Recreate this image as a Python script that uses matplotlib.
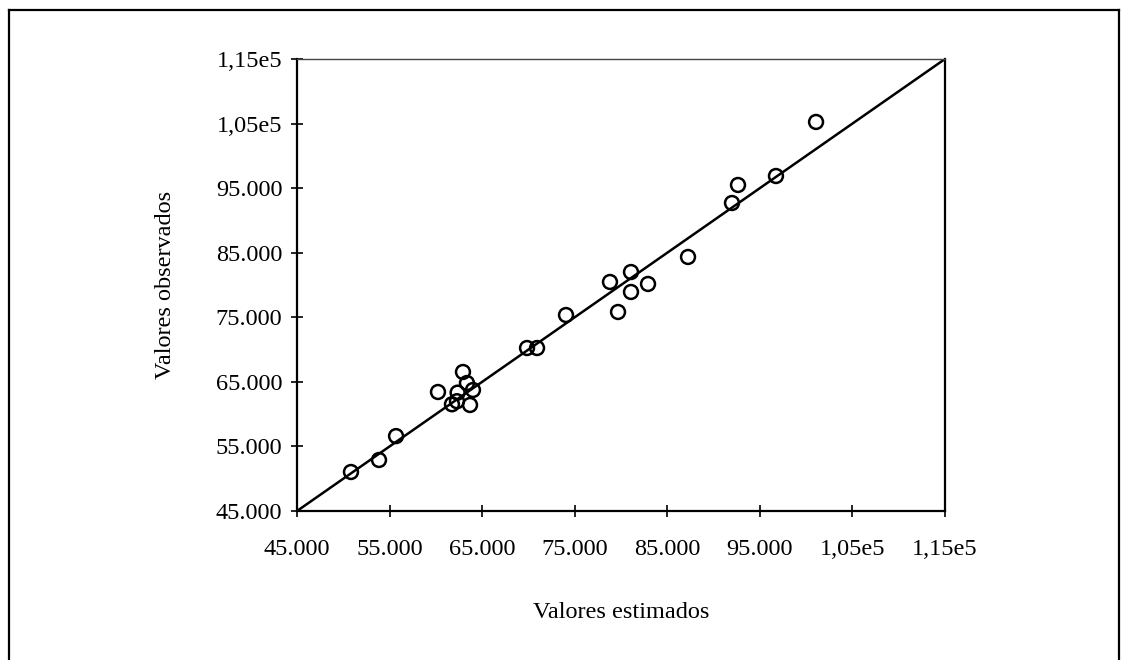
import matplotlib
matplotlib.use("Agg")
import matplotlib.pyplot as plt
from matplotlib.lines import Line2D

# Data
estimados = [50830, 53860, 55700,
             60230, 62930, 62350, 63360, 64010, 61740, 62280, 63690,
             69850, 70930, 74060, 78810, 81080, 81080, 82920, 79680, 87240,
             91990, 92640, 96740, 101070]
observados = [51040, 52900, 56600,
              63430, 66530, 63330, 64820, 63740, 61530, 62000, 61420,
              70240, 70240, 75350, 80470, 82010, 78920, 80160, 75820, 84340,
              92700, 95490, 96880, 105250]

ticks = [45000, 55000, 65000, 75000, 85000, 95000, 105000, 115000]
tick_labels = ["45.000", "55.000", "65.000", "75.000", "85.000", "95.000",
               "1,05e5", "1,15e5"]
line_ends = [45000, 115000]

plt.rcParams['font.family'] = ['Liberation Serif', 'DejaVu Serif']

fig = plt.figure(figsize=(11.26, 6.6), dpi=100)
W, H = 1126, 660
ax = fig.add_axes([297 / W, 1 - 511 / H, (945 - 297) / W, (511 - 59) / H])

ax.plot(line_ends, line_ends, color='black', lw=1.8, zorder=2)
ax.scatter(estimados, observados, s=100, facecolors='none', edgecolors='black',
           linewidths=1.8, zorder=3)

ax.set_xlim(45000, 115000)
ax.set_ylim(45000, 115000)
ax.set_xticks(ticks)
ax.set_xticklabels(tick_labels)
ax.set_yticks(ticks)
ax.set_yticklabels(tick_labels)

ax.tick_params(axis='both', direction='inout', length=9, width=1.2,
               labelsize=17.5, colors='black')
ax.tick_params(axis='x', pad=16)
ax.tick_params(axis='y', pad=6)

for side in ['left', 'bottom', 'right']:
    ax.spines[side].set_linewidth(1.6)
    ax.spines[side].set_color('black')
ax.spines['top'].set_linewidth(1.0)
ax.spines['top'].set_color('#444444')

ax.set_xlabel("Valores estimados", fontsize=17.5)
ax.xaxis.label.set_va('center')
ax.xaxis.set_label_coords(0.5, (511 - 613) / 452)
ax.set_ylabel("Valores observados", fontsize=17.5)
ax.yaxis.label.set_va('center')
ax.yaxis.set_label_coords((166 - 297) / 648, 0.5)

# Outer border of the figure (left, top, right)
x0, x1 = 9 / W, 1119 / W
y_top = 1 - 10 / H
for xs, ys in [([x0, x0], [0, y_top]), ([x0, x1], [y_top, y_top]),
               ([x1, x1], [y_top, 0])]:
    fig.add_artist(Line2D(xs, ys, transform=fig.transFigure, color='black', lw=1.6))

fig.savefig("out.png", dpi=100)
